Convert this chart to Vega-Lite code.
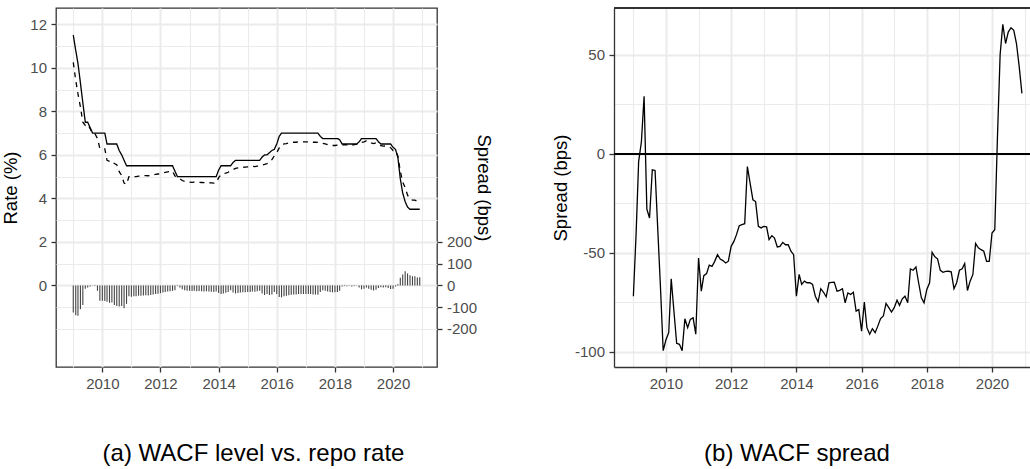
{
  "$schema": "https://vega.github.io/schema/vega-lite/v6.json",
  "padding": {"left": 0, "top": 7, "right": 0, "bottom": 0},
  "background": "white",
  "spacing": 58,
  "config": {
    "font": "Liberation Sans",
    "view": {"stroke": "#333333", "strokeWidth": 1.3},
    "axis": {
      "labelFont": "Liberation Sans",
      "labelFontSize": 15,
      "labelColor": "#4D4D4D",
      "titleFont": "Liberation Sans",
      "titleFontSize": 18.5,
      "titleFontWeight": "normal",
      "titleColor": "#000000",
      "tickColor": "#333333",
      "tickWidth": 1.3,
      "tickSize": 5,
      "labelPadding": 4.5,
      "domain": false,
      "gridColor": "#EBEBEB"
    }
  },
  "data": {
    "values": [
      {"d": "2009-01-01", "repo": 11.5, "wacf": 10.25, "gap": -125, "spr": -72},
      {"d": "2009-02-01", "repo": 10.8, "wacf": 9.43, "gap": -137, "spr": -40},
      {"d": "2009-03-01", "repo": 10.2, "wacf": 8.8, "gap": -140, "spr": -4},
      {"d": "2009-04-01", "repo": 9.3, "wacf": 8.2, "gap": -110, "spr": 6},
      {"d": "2009-05-01", "repo": 8.4, "wacf": 7.5, "gap": -90, "spr": 29},
      {"d": "2009-06-01", "repo": 7.5, "wacf": 7.35, "gap": -15, "spr": -28},
      {"d": "2009-07-01", "repo": 7.5, "wacf": 7.4, "gap": -10, "spr": -32.5},
      {"d": "2009-08-01", "repo": 7.25, "wacf": 7.2, "gap": -5, "spr": -8.2},
      {"d": "2009-09-01", "repo": 7.0, "wacf": 6.98, "gap": -2, "spr": -8.5},
      {"d": "2009-10-01", "repo": 7.0, "wacf": 6.97, "gap": -3, "spr": -38},
      {"d": "2009-11-01", "repo": 7.0, "wacf": 6.75, "gap": -25, "spr": -68},
      {"d": "2009-12-01", "repo": 7.0, "wacf": 6.3, "gap": -70, "spr": -99.5},
      {"d": "2010-01-01", "repo": 7.0, "wacf": 6.3, "gap": -70, "spr": -94},
      {"d": "2010-02-01", "repo": 7.0, "wacf": 6.28, "gap": -72, "spr": -90.4},
      {"d": "2010-03-01", "repo": 6.5, "wacf": 5.75, "gap": -75, "spr": -63.2},
      {"d": "2010-04-01", "repo": 6.5, "wacf": 5.7, "gap": -80, "spr": -80},
      {"d": "2010-05-01", "repo": 6.5, "wacf": 5.72, "gap": -78, "spr": -95.8},
      {"d": "2010-06-01", "repo": 6.5, "wacf": 5.6, "gap": -90, "spr": -96.3},
      {"d": "2010-07-01", "repo": 6.5, "wacf": 5.55, "gap": -95, "spr": -99.5},
      {"d": "2010-08-01", "repo": 6.2, "wacf": 5.23, "gap": -97, "spr": -83.4},
      {"d": "2010-09-01", "repo": 6.0, "wacf": 5.05, "gap": -95, "spr": -87.9},
      {"d": "2010-10-01", "repo": 5.75, "wacf": 4.7, "gap": -105, "spr": -83.7},
      {"d": "2010-11-01", "repo": 5.5, "wacf": 4.65, "gap": -85, "spr": -82.9},
      {"d": "2010-12-01", "repo": 5.5, "wacf": 5.0, "gap": -50, "spr": -91.2},
      {"d": "2011-01-01", "repo": 5.5, "wacf": 4.98, "gap": -52, "spr": -52.7},
      {"d": "2011-02-01", "repo": 5.5, "wacf": 5.0, "gap": -50, "spr": -69.4},
      {"d": "2011-03-01", "repo": 5.5, "wacf": 5.0, "gap": -50, "spr": -61.6},
      {"d": "2011-04-01", "repo": 5.5, "wacf": 5.02, "gap": -48, "spr": -60.6},
      {"d": "2011-05-01", "repo": 5.5, "wacf": 5.03, "gap": -47, "spr": -56.3},
      {"d": "2011-06-01", "repo": 5.5, "wacf": 5.04, "gap": -46, "spr": -56.9},
      {"d": "2011-07-01", "repo": 5.5, "wacf": 5.05, "gap": -45, "spr": -54.4},
      {"d": "2011-08-01", "repo": 5.5, "wacf": 5.04, "gap": -46, "spr": -51},
      {"d": "2011-09-01", "repo": 5.5, "wacf": 5.06, "gap": -44, "spr": -53.2},
      {"d": "2011-10-01", "repo": 5.5, "wacf": 5.08, "gap": -42, "spr": -54},
      {"d": "2011-11-01", "repo": 5.5, "wacf": 5.1, "gap": -40, "spr": -55.2},
      {"d": "2011-12-01", "repo": 5.5, "wacf": 5.12, "gap": -38, "spr": -54.3},
      {"d": "2012-01-01", "repo": 5.5, "wacf": 5.14, "gap": -36, "spr": -46.8},
      {"d": "2012-02-01", "repo": 5.5, "wacf": 5.17, "gap": -33, "spr": -44.3},
      {"d": "2012-03-01", "repo": 5.5, "wacf": 5.2, "gap": -30, "spr": -40.9},
      {"d": "2012-04-01", "repo": 5.5, "wacf": 5.22, "gap": -28, "spr": -36.4},
      {"d": "2012-05-01", "repo": 5.5, "wacf": 5.23, "gap": -27, "spr": -35.8},
      {"d": "2012-06-01", "repo": 5.5, "wacf": 5.25, "gap": -25, "spr": -35.4},
      {"d": "2012-07-01", "repo": 5.25, "wacf": 5.03, "gap": -22, "spr": -6.5},
      {"d": "2012-08-01", "repo": 5.0, "wacf": 4.97, "gap": -3, "spr": -15},
      {"d": "2012-09-01", "repo": 5.0, "wacf": 4.9, "gap": -10, "spr": -23.3},
      {"d": "2012-10-01", "repo": 5.0, "wacf": 4.82, "gap": -18, "spr": -24.2},
      {"d": "2012-11-01", "repo": 5.0, "wacf": 4.78, "gap": -22, "spr": -36.7},
      {"d": "2012-12-01", "repo": 5.0, "wacf": 4.76, "gap": -24, "spr": -37.5},
      {"d": "2013-01-01", "repo": 5.0, "wacf": 4.75, "gap": -25, "spr": -36.7},
      {"d": "2013-02-01", "repo": 5.0, "wacf": 4.74, "gap": -26, "spr": -37},
      {"d": "2013-03-01", "repo": 5.0, "wacf": 4.75, "gap": -25, "spr": -43.4},
      {"d": "2013-04-01", "repo": 5.0, "wacf": 4.73, "gap": -27, "spr": -41.4},
      {"d": "2013-05-01", "repo": 5.0, "wacf": 4.74, "gap": -26, "spr": -42.6},
      {"d": "2013-06-01", "repo": 5.0, "wacf": 4.73, "gap": -27, "spr": -47.1},
      {"d": "2013-07-01", "repo": 5.0, "wacf": 4.72, "gap": -28, "spr": -46.8},
      {"d": "2013-08-01", "repo": 5.0, "wacf": 4.73, "gap": -27, "spr": -44.8},
      {"d": "2013-09-01", "repo": 5.0, "wacf": 4.72, "gap": -28, "spr": -46},
      {"d": "2013-10-01", "repo": 5.0, "wacf": 4.71, "gap": -29, "spr": -46},
      {"d": "2013-11-01", "repo": 5.0, "wacf": 4.7, "gap": -30, "spr": -49.3},
      {"d": "2013-12-01", "repo": 5.0, "wacf": 4.72, "gap": -28, "spr": -51},
      {"d": "2014-01-01", "repo": 5.3, "wacf": 4.95, "gap": -35, "spr": -72},
      {"d": "2014-02-01", "repo": 5.5, "wacf": 5.1, "gap": -40, "spr": -61},
      {"d": "2014-03-01", "repo": 5.5, "wacf": 5.13, "gap": -37, "spr": -66},
      {"d": "2014-04-01", "repo": 5.5, "wacf": 5.16, "gap": -34, "spr": -64.4},
      {"d": "2014-05-01", "repo": 5.5, "wacf": 5.2, "gap": -30, "spr": -65.2},
      {"d": "2014-06-01", "repo": 5.5, "wacf": 5.28, "gap": -22, "spr": -65.2},
      {"d": "2014-07-01", "repo": 5.65, "wacf": 5.32, "gap": -33, "spr": -66},
      {"d": "2014-08-01", "repo": 5.75, "wacf": 5.38, "gap": -37, "spr": -72},
      {"d": "2014-09-01", "repo": 5.75, "wacf": 5.4, "gap": -35, "spr": -74.8},
      {"d": "2014-10-01", "repo": 5.75, "wacf": 5.42, "gap": -33, "spr": -68.2},
      {"d": "2014-11-01", "repo": 5.75, "wacf": 5.43, "gap": -32, "spr": -70},
      {"d": "2014-12-01", "repo": 5.75, "wacf": 5.44, "gap": -31, "spr": -72.3},
      {"d": "2015-01-01", "repo": 5.75, "wacf": 5.45, "gap": -30, "spr": -65.2},
      {"d": "2015-02-01", "repo": 5.75, "wacf": 5.45, "gap": -30, "spr": -65},
      {"d": "2015-03-01", "repo": 5.75, "wacf": 5.47, "gap": -28, "spr": -64.9},
      {"d": "2015-04-01", "repo": 5.75, "wacf": 5.46, "gap": -29, "spr": -69.4},
      {"d": "2015-05-01", "repo": 5.75, "wacf": 5.48, "gap": -27, "spr": -69},
      {"d": "2015-06-01", "repo": 5.75, "wacf": 5.5, "gap": -25, "spr": -68.2},
      {"d": "2015-07-01", "repo": 5.9, "wacf": 5.53, "gap": -37, "spr": -75.3},
      {"d": "2015-08-01", "repo": 6.0, "wacf": 5.56, "gap": -44, "spr": -70.3},
      {"d": "2015-09-01", "repo": 6.0, "wacf": 5.6, "gap": -40, "spr": -71.1},
      {"d": "2015-10-01", "repo": 6.1, "wacf": 5.66, "gap": -44, "spr": -70},
      {"d": "2015-11-01", "repo": 6.2, "wacf": 5.78, "gap": -42, "spr": -79.5},
      {"d": "2015-12-01", "repo": 6.25, "wacf": 5.95, "gap": -30, "spr": -78.7},
      {"d": "2016-01-01", "repo": 6.5, "wacf": 6.1, "gap": -40, "spr": -89.6},
      {"d": "2016-02-01", "repo": 6.85, "wacf": 6.32, "gap": -53, "spr": -75},
      {"d": "2016-03-01", "repo": 7.0, "wacf": 6.45, "gap": -55, "spr": -87.9},
      {"d": "2016-04-01", "repo": 7.0, "wacf": 6.5, "gap": -50, "spr": -91.2},
      {"d": "2016-05-01", "repo": 7.0, "wacf": 6.52, "gap": -48, "spr": -88.4},
      {"d": "2016-06-01", "repo": 7.0, "wacf": 6.55, "gap": -45, "spr": -90.4},
      {"d": "2016-07-01", "repo": 7.0, "wacf": 6.57, "gap": -43, "spr": -87.1},
      {"d": "2016-08-01", "repo": 7.0, "wacf": 6.58, "gap": -42, "spr": -83.3},
      {"d": "2016-09-01", "repo": 7.0, "wacf": 6.58, "gap": -42, "spr": -82},
      {"d": "2016-10-01", "repo": 7.0, "wacf": 6.6, "gap": -40, "spr": -75.6},
      {"d": "2016-11-01", "repo": 7.0, "wacf": 6.6, "gap": -40, "spr": -77.8},
      {"d": "2016-12-01", "repo": 7.0, "wacf": 6.6, "gap": -40, "spr": -80},
      {"d": "2017-01-01", "repo": 7.0, "wacf": 6.6, "gap": -40, "spr": -77.8},
      {"d": "2017-02-01", "repo": 7.0, "wacf": 6.6, "gap": -40, "spr": -74},
      {"d": "2017-03-01", "repo": 7.0, "wacf": 6.6, "gap": -40, "spr": -76.6},
      {"d": "2017-04-01", "repo": 7.0, "wacf": 6.58, "gap": -42, "spr": -73.3},
      {"d": "2017-05-01", "repo": 7.0, "wacf": 6.58, "gap": -42, "spr": -72},
      {"d": "2017-06-01", "repo": 7.0, "wacf": 6.57, "gap": -43, "spr": -75.3},
      {"d": "2017-07-01", "repo": 6.85, "wacf": 6.55, "gap": -30, "spr": -58.2},
      {"d": "2017-08-01", "repo": 6.75, "wacf": 6.53, "gap": -22, "spr": -58.9},
      {"d": "2017-09-01", "repo": 6.75, "wacf": 6.5, "gap": -25, "spr": -57.2},
      {"d": "2017-10-01", "repo": 6.75, "wacf": 6.47, "gap": -28, "spr": -65.2},
      {"d": "2017-11-01", "repo": 6.75, "wacf": 6.45, "gap": -30, "spr": -72.8},
      {"d": "2017-12-01", "repo": 6.75, "wacf": 6.43, "gap": -32, "spr": -75.3},
      {"d": "2018-01-01", "repo": 6.75, "wacf": 6.43, "gap": -32, "spr": -68.6},
      {"d": "2018-02-01", "repo": 6.75, "wacf": 6.45, "gap": -30, "spr": -65.2},
      {"d": "2018-03-01", "repo": 6.7, "wacf": 6.45, "gap": -25, "spr": -49.8},
      {"d": "2018-04-01", "repo": 6.5, "wacf": 6.45, "gap": -5, "spr": -52.1},
      {"d": "2018-05-01", "repo": 6.5, "wacf": 6.47, "gap": -3, "spr": -53.1},
      {"d": "2018-06-01", "repo": 6.5, "wacf": 6.46, "gap": -4, "spr": -58.9},
      {"d": "2018-07-01", "repo": 6.5, "wacf": 6.48, "gap": -2, "spr": -59.9},
      {"d": "2018-08-01", "repo": 6.5, "wacf": 6.45, "gap": -5, "spr": -59.5},
      {"d": "2018-09-01", "repo": 6.5, "wacf": 6.47, "gap": -3, "spr": -59.4},
      {"d": "2018-10-01", "repo": 6.5, "wacf": 6.48, "gap": -2, "spr": -59.7},
      {"d": "2018-11-01", "repo": 6.6, "wacf": 6.5, "gap": -10, "spr": -68.2},
      {"d": "2018-12-01", "repo": 6.75, "wacf": 6.57, "gap": -18, "spr": -65.2},
      {"d": "2019-01-01", "repo": 6.75, "wacf": 6.6, "gap": -15, "spr": -58.9},
      {"d": "2019-02-01", "repo": 6.75, "wacf": 6.65, "gap": -10, "spr": -58.2},
      {"d": "2019-03-01", "repo": 6.75, "wacf": 6.6, "gap": -15, "spr": -55.5},
      {"d": "2019-04-01", "repo": 6.75, "wacf": 6.55, "gap": -20, "spr": -69.1},
      {"d": "2019-05-01", "repo": 6.75, "wacf": 6.52, "gap": -23, "spr": -64.4},
      {"d": "2019-06-01", "repo": 6.75, "wacf": 6.55, "gap": -20, "spr": -61},
      {"d": "2019-07-01", "repo": 6.6, "wacf": 6.48, "gap": -12, "spr": -45.4},
      {"d": "2019-08-01", "repo": 6.5, "wacf": 6.42, "gap": -8, "spr": -47.6},
      {"d": "2019-09-01", "repo": 6.5, "wacf": 6.4, "gap": -10, "spr": -48.5},
      {"d": "2019-10-01", "repo": 6.5, "wacf": 6.41, "gap": -9, "spr": -49.3},
      {"d": "2019-11-01", "repo": 6.5, "wacf": 6.38, "gap": -12, "spr": -54.4},
      {"d": "2019-12-01", "repo": 6.5, "wacf": 6.33, "gap": -17, "spr": -54.4},
      {"d": "2020-01-01", "repo": 6.35, "wacf": 6.2, "gap": -15, "spr": -40.1},
      {"d": "2020-02-01", "repo": 6.25, "wacf": 6.2, "gap": -5, "spr": -38.4},
      {"d": "2020-03-01", "repo": 5.9, "wacf": 5.95, "gap": 5, "spr": 6.8},
      {"d": "2020-04-01", "repo": 4.9, "wacf": 5.25, "gap": 35, "spr": 50},
      {"d": "2020-05-01", "repo": 4.25, "wacf": 4.75, "gap": 50, "spr": 65.3},
      {"d": "2020-06-01", "repo": 3.85, "wacf": 4.5, "gap": 65, "spr": 55.6},
      {"d": "2020-07-01", "repo": 3.6, "wacf": 4.15, "gap": 55, "spr": 61.4},
      {"d": "2020-08-01", "repo": 3.5, "wacf": 3.97, "gap": 47, "spr": 63.6},
      {"d": "2020-09-01", "repo": 3.5, "wacf": 3.92, "gap": 42, "spr": 62.3},
      {"d": "2020-10-01", "repo": 3.5, "wacf": 3.92, "gap": 42, "spr": 55.6},
      {"d": "2020-11-01", "repo": 3.5, "wacf": 3.86, "gap": 36, "spr": 43.8},
      {"d": "2020-12-01", "repo": 3.5, "wacf": 3.88, "gap": 38, "spr": 30.4}
    ]
  },
  "hconcat": [
    {
      "width": 381,
      "height": 359,
      "title": {
        "text": "(a) WACF level vs. repo rate",
        "orient": "bottom",
        "anchor": "middle",
        "frame": "group",
        "font": "Liberation Sans",
        "fontSize": 24,
        "fontWeight": "normal",
        "color": "#000000",
        "offset": 50,
        "dx": 7
      },
      "encoding": {
        "x": {
          "field": "d",
          "type": "temporal",
          "scale": {"type": "utc", "domain": [{"year": 2008, "month": 5, "date": 29, "utc": true}, {"year": 2021, "month": 7, "date": 6, "utc": true}]},
          "axis": {
            "title": null,
            "grid": true,
            "values": [{"year": 2009, "utc": true}, {"year": 2010, "utc": true}, {"year": 2011, "utc": true}, {"year": 2012, "utc": true}, {"year": 2013, "utc": true}, {"year": 2014, "utc": true}, {"year": 2015, "utc": true}, {"year": 2016, "utc": true}, {"year": 2017, "utc": true}, {"year": 2018, "utc": true}, {"year": 2019, "utc": true}, {"year": 2020, "utc": true}, {"year": 2021, "utc": true}],
            "labelExpr": "utcyear(datum.value) % 2 == 0 ? '' + utcyear(datum.value) : ''",
            "tickOpacity": {"condition": {"test": "utcyear(datum.value) % 2 == 0", "value": 1}, "value": 0},
            "gridWidth": {"condition": {"test": "utcyear(datum.value) % 2 == 0", "value": 2}, "value": 1.1},
            "labelFlush": false,
            "labelOverlap": false
          }
        }
      },
      "layer": [
        {
          "mark": {"type": "rule", "color": "#444444", "strokeWidth": 1.1},
          "encoding": {
            "y": {
              "field": "gap",
              "type": "quantitative",
              "scale": {"domain": [-375, 1275], "nice": false, "zero": false},
              "axis": {
                "orient": "right",
                "title": "Spread (bps)",
                "grid": false,
                "values": [-200, -100, 0, 100, 200],
                "labelExpr": "datum.value < 0 ? '-' + format(-datum.value, 'd') : format(datum.value, 'd')",
                "minExtent": 34,
                "maxExtent": 34,
                "titlePadding": 2
              }
            },
            "y2": {"datum": 0}
          }
        },
        {
          "transform": [{"fold": ["repo", "wacf"], "as": ["series", "rate"]}],
          "mark": {"type": "line", "color": "#000000", "strokeWidth": 1.3},
          "encoding": {
            "y": {
              "field": "rate",
              "type": "quantitative",
              "scale": {"domain": [-3.75, 12.75], "nice": false, "zero": false},
              "axis": {
                "orient": "left",
                "title": "Rate (%)",
                "grid": true,
                "values": [-2, -1, 0, 1, 2, 3, 4, 5, 6, 7, 8, 9, 10, 11, 12],
                "labelExpr": "datum.value >= 0 && datum.value % 2 == 0 ? format(datum.value, 'd') : ''",
                "tickOpacity": {"condition": {"test": "datum.value >= 0 && datum.value % 2 == 0", "value": 1}, "value": 0},
                "gridWidth": {"condition": {"test": "datum.value >= 0 && datum.value % 2 == 0", "value": 2}, "value": 1.1},
                "minExtent": 26,
                "maxExtent": 26,
                "titlePadding": 10
              }
            },
            "strokeDash": {
              "field": "series",
              "type": "nominal",
              "scale": {"domain": ["repo", "wacf"], "range": [[1, 0], [5, 5]]},
              "legend": null
            }
          }
        }
      ],
      "resolve": {"scale": {"y": "independent"}, "axis": {"y": "independent"}}
    },
    {
      "width": 418,
      "height": 359,
      "view": {"stroke": null},
      "title": {
        "text": "(b) WACF spread",
        "orient": "bottom",
        "anchor": "middle",
        "frame": "group",
        "font": "Liberation Sans",
        "fontSize": 24,
        "fontWeight": "normal",
        "color": "#000000",
        "offset": 50,
        "dx": -26
      },
      "layer": [
        {
          "mark": {"type": "line", "color": "#000000", "strokeWidth": 1.3},
          "encoding": {
            "x": {
              "field": "d",
              "type": "temporal",
              "scale": {"type": "utc", "domain": [{"year": 2008, "month": 5, "date": 29, "utc": true}, {"year": 2021, "month": 3, "date": 24, "utc": true}]},
              "axis": {
                "title": null,
                "grid": true,
                "domain": true,
                "domainColor": "#333333",
                "domainWidth": 1.3,
                "values": [{"year": 2009, "utc": true}, {"year": 2010, "utc": true}, {"year": 2011, "utc": true}, {"year": 2012, "utc": true}, {"year": 2013, "utc": true}, {"year": 2014, "utc": true}, {"year": 2015, "utc": true}, {"year": 2016, "utc": true}, {"year": 2017, "utc": true}, {"year": 2018, "utc": true}, {"year": 2019, "utc": true}, {"year": 2020, "utc": true}, {"year": 2021, "utc": true}],
                "labelExpr": "utcyear(datum.value) % 2 == 0 ? '' + utcyear(datum.value) : ''",
                "tickOpacity": {"condition": {"test": "utcyear(datum.value) % 2 == 0", "value": 1}, "value": 0},
                "gridWidth": {"condition": {"test": "utcyear(datum.value) % 2 == 0", "value": 2}, "value": 1.1},
                "labelFlush": false,
                "labelOverlap": false
              }
            },
            "y": {
              "field": "spr",
              "type": "quantitative",
              "scale": {"domain": [-107.74, 73.54], "nice": false, "zero": false},
              "axis": {
                "title": "Spread (bps)",
                "grid": true,
                "domain": true,
                "domainColor": "#333333",
                "domainWidth": 1.3,
                "values": [-100, -75, -50, -25, 0, 25, 50],
                "labelExpr": "datum.value % 50 == 0 ? (datum.value < 0 ? '-' + format(-datum.value, 'd') : format(datum.value, 'd')) : ''",
                "tickOpacity": {"condition": {"test": "datum.value % 50 == 0", "value": 1}, "value": 0},
                "gridWidth": {"condition": {"test": "datum.value % 50 == 0", "value": 2}, "value": 1.1},
                "minExtent": 36,
                "maxExtent": 36,
                "titlePadding": 8
              }
            }
          }
        },
        {
          "mark": {"type": "rule", "color": "#000000", "strokeWidth": 1.1},
          "encoding": {"y": {"datum": 0, "type": "quantitative"}}
        },
        {
          "mark": {"type": "rule", "color": "#333333", "strokeWidth": 1.3},
          "encoding": {"y": {"datum": 73.54, "type": "quantitative"}}
        }
      ]
    }
  ]
}
